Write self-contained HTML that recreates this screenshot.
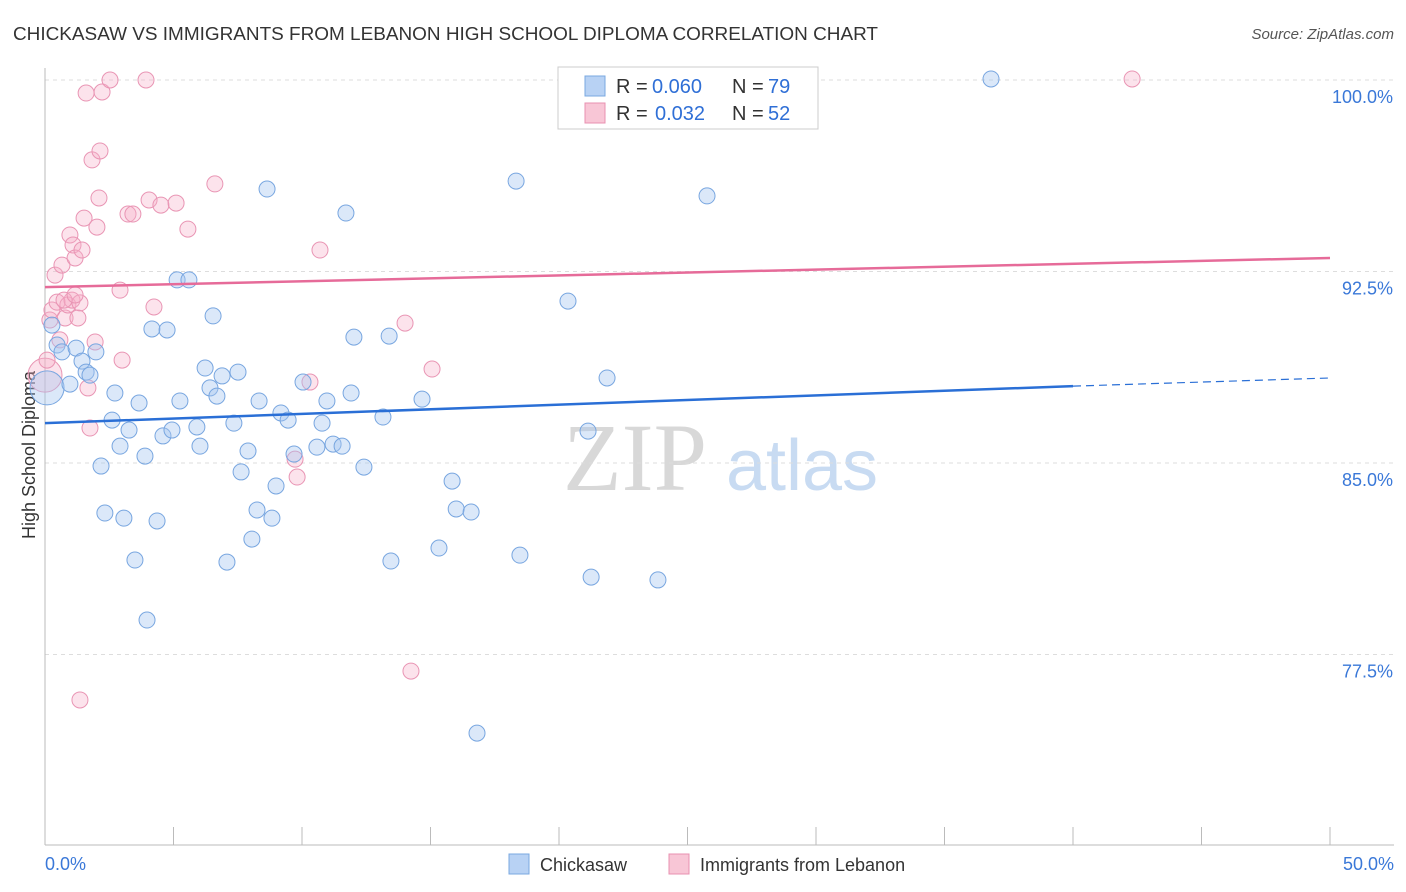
<!DOCTYPE html>
<html><head><meta charset="utf-8"><style>
body{margin:0;background:#fff;font-family:"Liberation Sans",sans-serif}
#wrap{position:relative;width:1406px;height:892px;overflow:hidden}
</style></head><body>
<div id="wrap">
<svg id="svg" width="1406" height="892" xmlns="http://www.w3.org/2000/svg">
<text x="13" y="40" font-size="18" fill="#333" textLength="865" lengthAdjust="spacingAndGlyphs">CHICKASAW VS IMMIGRANTS FROM LEBANON HIGH SCHOOL DIPLOMA CORRELATION CHART</text>
<text x="1394" y="39" font-size="15" fill="#555" font-style="italic" text-anchor="end">Source: ZipAtlas.com</text>
<text x="635" y="490" font-size="96" fill="#d8d8d8" font-family="Liberation Serif,serif" text-anchor="middle">ZIP</text>
<text x="802" y="490" font-size="72" fill="#c8dbf2" text-anchor="middle">atlas</text>
<text x="35" y="455" font-size="18" fill="#333" text-anchor="middle" transform="rotate(-90 35 455)">High School Diploma</text>
<g id="grid"></g><g id="pts"></g><g id="lines"></g>
<g>
<rect x="558" y="67" width="260" height="62" fill="#fff" stroke="#ccc"/>
<rect x="585" y="76" width="20" height="20" fill="#b8d2f4" stroke="#7aa8e0"/>
<g font-size="20">
<text x="616" y="93" fill="#333">R =</text><text x="652" y="93" fill="#2f6fd6">0.060</text>
<text x="732" y="93" fill="#333">N =</text><text x="768" y="93" fill="#2f6fd6">79</text></g>
<rect x="585" y="103" width="20" height="20" fill="#f8c6d6" stroke="#e890b0"/>
<g font-size="20">
<text x="616" y="120" fill="#333">R =</text><text x="655" y="120" fill="#2f6fd6">0.032</text>
<text x="732" y="120" fill="#333">N =</text><text x="768" y="120" fill="#2f6fd6">52</text></g>
</g>
<g>
<rect x="509" y="854" width="20" height="20" fill="#b8d2f4" stroke="#7aa8e0"/>
<text x="540" y="871" font-size="18" fill="#333">Chickasaw</text>
<rect x="669" y="854" width="20" height="20" fill="#f8c6d6" stroke="#e890b0"/>
<text x="700" y="871" font-size="18" fill="#333">Immigrants from Lebanon</text>
</g>
</svg>
</div>
<script>
const yTicks=[100,92.5,85,77.5];
const yTickLabels=["100.0%","92.5%","85.0%","77.5%"];
const xTicks=[0,5,10,15,20,25,30,35,40,45,50];
const xEndLabels=["0.0%","50.0%"];
const blueX=[0.08,0.27,0.47,0.66,0.97,1.21,1.44,1.60,1.75,1.98,2.18,2.33,2.61,2.72,2.92,3.07,3.27,3.50,3.66,3.89,3.97,4.36,4.16,4.59,4.75,4.94,5.14,5.25,5.60,5.91,6.03,6.23,6.42,6.54,6.69,6.89,7.08,7.35,7.51,7.63,7.90,8.05,8.25,8.33,8.64,8.83,8.99,9.18,9.46,9.69,10.04,10.58,10.78,10.97,11.21,11.56,11.71,11.91,12.02,12.41,13.15,13.39,13.46,14.67,15.33,15.84,16.00,16.58,16.81,18.33,18.48,20.35,21.13,21.25,21.87,23.85,25.76,36.81];
const blueY=[87.94,90.40,89.62,89.35,88.09,89.50,88.99,88.56,88.44,89.35,84.88,83.04,86.68,87.74,85.66,82.84,86.29,81.20,87.35,85.27,78.85,82.73,90.25,86.06,90.21,86.29,92.17,87.43,92.17,86.41,85.66,88.72,87.94,90.76,87.62,88.41,81.12,86.56,88.56,84.65,85.47,82.02,83.16,87.43,95.73,82.84,84.10,86.96,86.68,85.35,88.17,85.62,86.56,87.43,85.74,85.66,94.79,87.74,89.93,84.84,86.80,89.97,81.16,87.50,81.67,84.29,83.20,83.08,74.42,96.04,81.39,91.34,86.25,80.53,88.33,80.42,95.46,100.04];
const pinkX=[0.0,0.08,0.19,0.27,0.39,0.47,0.58,0.66,0.78,0.89,0.97,1.05,1.09,1.17,1.28,1.36,1.44,1.52,1.60,1.67,1.75,1.83,1.95,2.02,2.10,2.14,2.22,2.53,2.92,3.00,3.23,3.42,3.93,4.05,4.24,4.51,5.10,5.56,6.61,9.73,9.81,10.31,10.70,14.01,14.24,15.06,42.30,1.36,0.74,1.17];
const pinkY=[88.44,89.03,90.60,90.99,92.36,91.30,89.82,92.75,90.68,91.19,93.93,91.38,93.54,93.03,90.68,91.27,93.34,94.59,99.49,87.94,86.37,96.87,89.74,94.24,95.38,97.22,99.53,100.0,91.77,89.03,94.75,94.75,100.0,95.30,91.11,95.10,95.18,94.16,95.93,85.15,84.45,88.17,93.34,90.48,76.85,88.68,100.04,75.72,91.38,91.58];
const blueBig=[0];
const pinkBig=[0];
const blueTrend=[86.56,88.01,88.33];
const pinkTrend=[91.89,93.03];
const NS="http://www.w3.org/2000/svg";
const sx=v=>45+v*25.7;
const sy=v=>80+(100-v)*25.533;
function mk(tag,attrs,parent){const e=document.createElementNS(NS,tag);for(const k in attrs)e.setAttribute(k,attrs[k]);parent.appendChild(e);return e;}
const grid=document.getElementById('grid'),pts=document.getElementById('pts'),lines=document.getElementById('lines');
yTicks.forEach((t,i)=>{
 const l=mk('line',{x1:45,x2:1394,y1:sy(t),y2:sy(t),stroke:'#ddd','stroke-dasharray':'4,4'},grid);
 
 
 const tx=mk('text',{x:1393,y:sy(t)+23,'font-size':18,fill:'#3a78d8','text-anchor':'end'},grid);
 tx.textContent=yTickLabels[i];
 
 
});
const ax=mk('line',{x1:45,x2:45,y1:68,y2:845,stroke:'#bbb'},grid);


const bx=mk('line',{x1:45,x2:1394,y1:845,y2:845,stroke:'#bbb'},grid);


xTicks.forEach(t=>{
 const l=mk('line',{x1:sx(t),x2:sx(t),y1:827,y2:845,stroke:'#bbb'},grid);
 
 
});
[[0,'start',45],[50,'end',1394]].forEach((d,i)=>{
 const tx=mk('text',{x:d[2],y:870,'font-size':18,fill:'#3a78d8','text-anchor':d[1]},grid);
 tx.textContent=xEndLabels[i];
 
 
});
function drawPts(X,Y,big,fill,stroke,name){
 X.forEach((x,i)=>{
  const c=mk('circle',{cx:sx(x),cy:sy(Y[i]),r:big.includes(i)?17:8,fill:fill,stroke:stroke,'stroke-width':1},pts);
  
  
 });
}
drawPts(pinkX,pinkY,pinkBig,'rgba(246,176,200,0.35)','#e995b4','lebanon-point');
drawPts(blueX,blueY,blueBig,'rgba(164,198,240,0.4)','#78a6e0','chickasaw-point');
const b1=mk('line',{x1:sx(0),y1:sy(blueTrend[0]),x2:sx(40),y2:sy(blueTrend[1]),stroke:'#2a6fd6','stroke-width':2.5},lines);


const b2=mk('line',{x1:sx(40),y1:sy(blueTrend[1]),x2:sx(50),y2:sy(blueTrend[2]),stroke:'#2a6fd6','stroke-width':1.2,'stroke-dasharray':'8,5'},lines);


const p1=mk('line',{x1:sx(0),y1:sy(pinkTrend[0]),x2:sx(50),y2:sy(pinkTrend[1]),stroke:'#e66b99','stroke-width':2.5},lines);


</script>
</body></html>
